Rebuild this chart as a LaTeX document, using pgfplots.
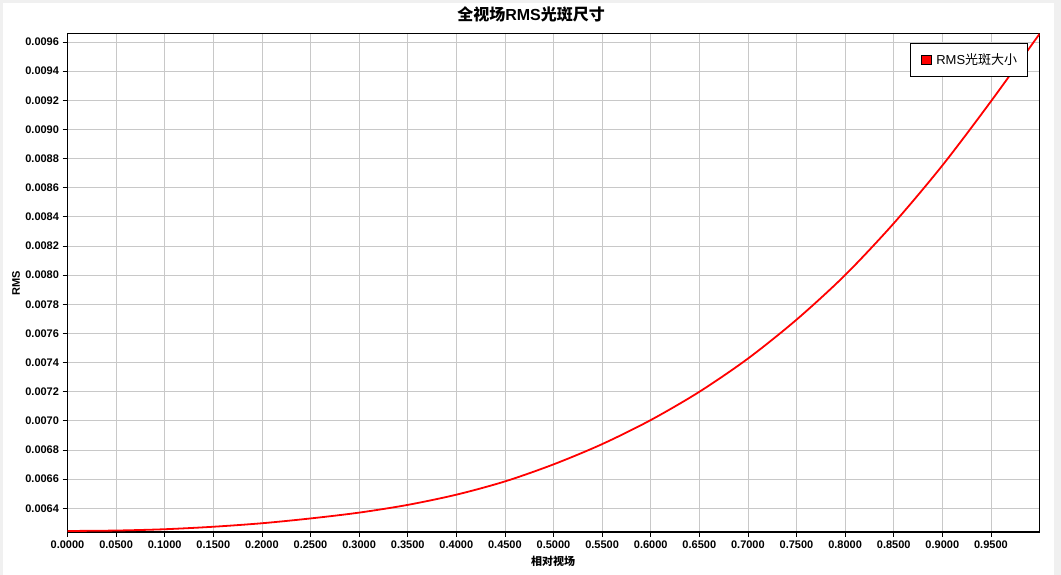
\documentclass[border=0pt]{standalone}
\usepackage{pgfplots}
\pgfplotsset{compat=1.18}
\usepackage{fontspec}
\setmainfont{Liberation Sans}
\newfontfamily\cjk{Noto Sans CJK SC}
\definecolor{gridgray}{HTML}{C8C8C8}
\definecolor{framegray}{HTML}{F0F0F0}
\begin{document}
\begin{tikzpicture}[x=1bp,y=1bp]
\fill[framegray] (0,0) rectangle (1061,575);
\fill[white] (3,0) rectangle (1054,572);
\path[use as bounding box] (0,0) rectangle (1061,575);
\begin{axis}[
  at={(67.5bp,43bp)}, anchor=south west,
  scale only axis, width=972bp, height=498.5bp,
  xmin=0, xmax=1.0, ymin=0.006237, ymax=0.009658,
  xtick={0,0.05,0.1,0.15,0.2,0.25,0.3,0.35,0.4,0.45,0.5,0.55,0.6,0.65,0.7,0.75,0.8,0.85,0.9,0.95},
  ytick={0.0064,0.0066,0.0068,0.0070,0.0072,0.0074,0.0076,0.0078,0.0080,0.0082,0.0084,0.0086,0.0088,0.0090,0.0092,0.0094,0.0096},
  scaled x ticks=false, scaled y ticks=false,
  xticklabel style={/pgf/number format/.cd, fixed, fixed zerofill, precision=4, assume math mode=true},
  yticklabel style={/pgf/number format/.cd, fixed, fixed zerofill, precision=4, assume math mode=true},
  tick label style={font=\fontsize{11bp}{13bp}\selectfont\bfseries, text=black},
  xtick pos=bottom, ytick pos=left, tick align=outside,
  major tick length=5bp,
  every tick/.style={black, line width=0.8bp},
  grid=major, major grid style={gridgray, line width=0.8bp},
  axis line style={black, line width=1.2bp},
  every axis title shift=0pt,
  title={{\cjk\bfseries 全视场}\bfseries RMS{\cjk\bfseries 光斑尺寸}},
  title style={at={(axis description cs:0.4769,1.0391)}, anchor=center, yshift=0pt, font=\fontsize{16bp}{18bp}\selectfont, inner sep=0pt},
  xlabel={\cjk\bfseries 相对视场},
  xlabel style={at={(axis description cs:0.4995,-0.0596)}, anchor=center, font=\fontsize{11bp}{13bp}\selectfont, inner sep=0pt},
  ylabel={\bfseries RMS},
  ylabel style={at={(axis description cs:-0.053,0.4995)}, anchor=center, rotate=0, font=\fontsize{11bp}{13bp}\selectfont, inner sep=0pt},
  legend style={at={(axis description cs:1,1)}, anchor=north east, xshift=-11.2bp, yshift=-9.8bp,
    draw=black, line width=1.2bp, font=\fontsize{13bp}{15bp}\selectfont,
    inner xsep=10.5bp, inner ysep=10bp, nodes={inner sep=0pt}, column sep=5bp},
  legend image code/.code={\draw[black, fill=red, line width=0.8bp] (0bp,-4.8bp) rectangle (9.6bp,4.8bp);},
]
\addplot[red, line width=1.8bp, smooth] coordinates {
(0.00,0.006244) (0.05,0.006247) (0.10,0.006256) (0.15,0.006273) (0.20,0.006297)
(0.25,0.006330) (0.30,0.006370) (0.35,0.006423) (0.40,0.006493) (0.45,0.006584)
(0.50,0.006701) (0.55,0.006840) (0.60,0.007005) (0.65,0.007199) (0.70,0.007427)
(0.75,0.007694) (0.80,0.008000) (0.85,0.008355) (0.90,0.008752) (0.95,0.009192)
(1.00,0.009655)
};
\addlegendentry{RMS{\cjk 光斑大小}}
\end{axis}
\end{tikzpicture}
\end{document}
